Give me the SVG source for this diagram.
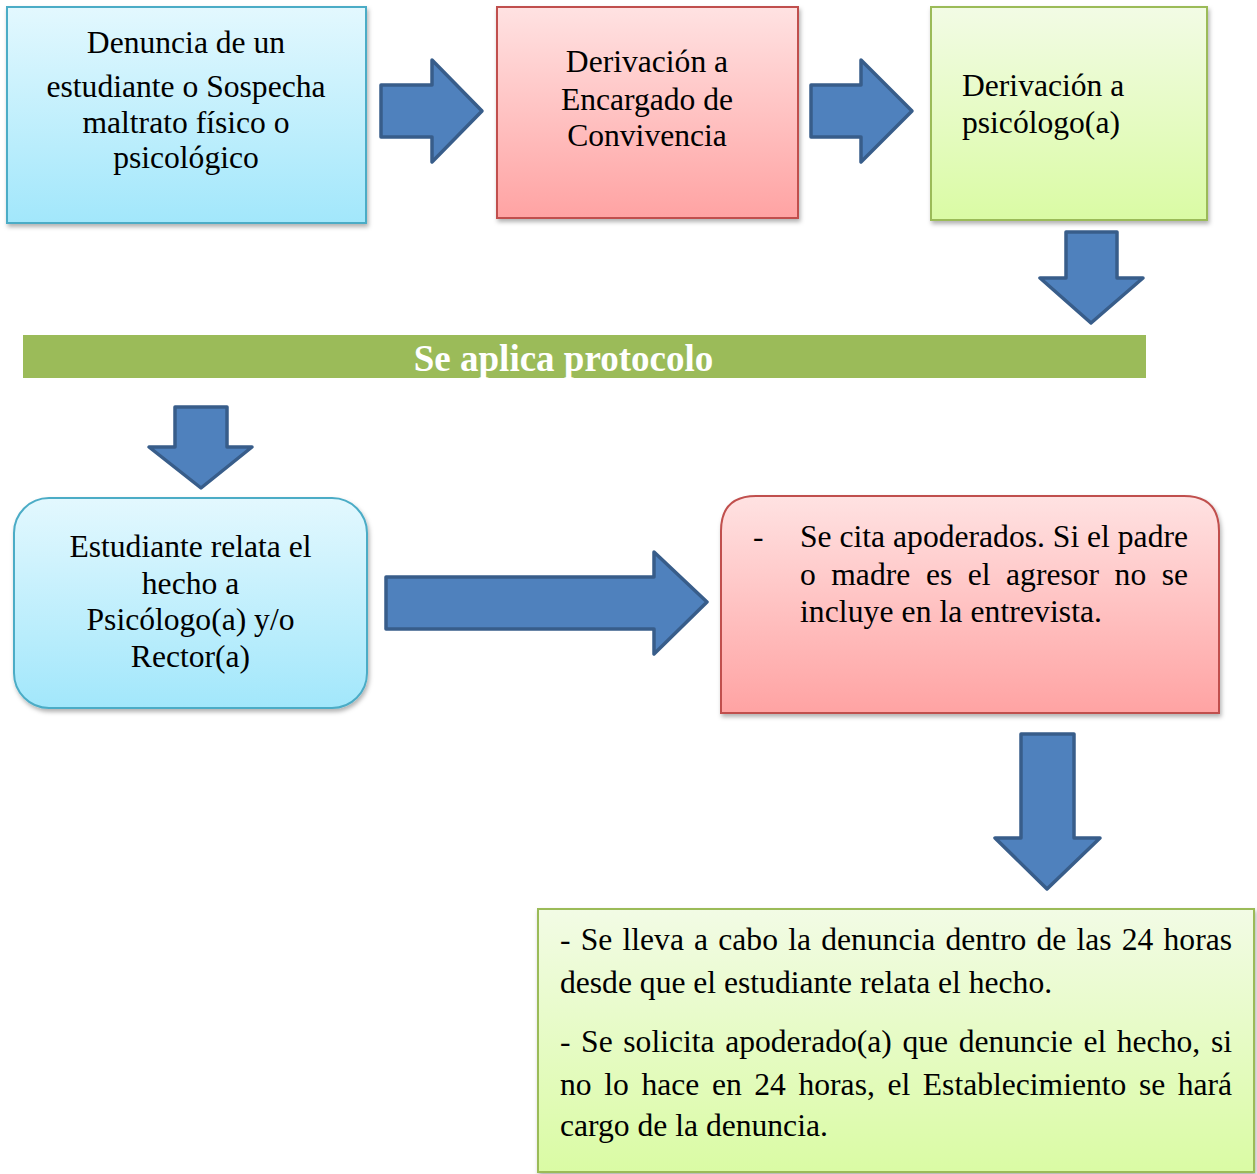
<svg xmlns="http://www.w3.org/2000/svg" width="1257" height="1174" viewBox="0 0 1257 1174">
<style>
.t{font-family:"Liberation Serif","Times New Roman",serif;font-size:31.6px;fill:#000}
.c{text-anchor:middle}
.arrow{fill:#4f81bd;stroke:#385d8a;stroke-width:3.5;stroke-linejoin:round}
.blue{fill:url(#gBlue);stroke:#4bacc6;stroke-width:2}
.red{fill:url(#gRed);stroke:#c0504d;stroke-width:2}
.green{fill:url(#gGreen);stroke:#9bbb59;stroke-width:2}
</style>
<defs>
<linearGradient id="gBlue" x1="0" y1="0" x2="0" y2="1"><stop offset="0" stop-color="#e3f8fe"/><stop offset="1" stop-color="#a2e7fb"/></linearGradient>
<linearGradient id="gRed" x1="0" y1="0" x2="0" y2="1"><stop offset="0" stop-color="#ffe2e2"/><stop offset="1" stop-color="#ffa3a3"/></linearGradient>
<linearGradient id="gGreen" x1="0" y1="0" x2="0" y2="1"><stop offset="0" stop-color="#f2fbe5"/><stop offset="1" stop-color="#dafba4"/></linearGradient>
<filter id="sh" x="-10%" y="-10%" width="120%" height="125%"><feDropShadow dx="1.5" dy="3" stdDeviation="2" flood-color="#000" flood-opacity="0.3"/></filter>
</defs>
<rect width="1257" height="1174" fill="#fff"/>

<g id="node-denuncia">
<rect class="blue" x="7" y="7" width="359" height="216" filter="url(#sh)"/>
<text class="t c" x="186" y="53">Denuncia de un</text>
<text class="t c" x="186" y="97">estudiante o Sospecha</text>
<text class="t c" x="186" y="133">maltrato físico o</text>
<text class="t c" x="186" y="168">psicológico</text>
</g>

<g id="node-encargado">
<rect class="red" x="497" y="7" width="301" height="211" filter="url(#sh)"/>
<text class="t c" x="647" y="72">Derivación a</text>
<text class="t c" x="647" y="110">Encargado de</text>
<text class="t c" x="647" y="146">Convivencia</text>
</g>

<g id="node-psicologo">
<rect class="green" x="931" y="7" width="276" height="213" filter="url(#sh)"/>
<text class="t" x="962" y="96">Derivación a</text>
<text class="t" x="962" y="133">psicólogo(a)</text>
</g>

<g id="node-protocolo">
<rect x="23" y="335" width="1123" height="43" fill="#9bbb59"/>
<text x="563.5" y="371" text-anchor="middle" font-family="Liberation Serif,Times New Roman,serif" font-size="37" font-weight="bold" fill="#fff">Se aplica protocolo</text>
</g>

<g id="node-relata">
<rect class="blue" x="14" y="498" width="353" height="210" rx="35" ry="35" filter="url(#sh)"/>
<text class="t c" x="190.5" y="557">Estudiante relata el</text>
<text class="t c" x="190.5" y="594">hecho a</text>
<text class="t c" x="190.5" y="630">Psicólogo(a) y/o</text>
<text class="t c" x="190.5" y="667">Rector(a)</text>
</g>

<g id="node-cita">
<path class="red" d="M721 713 V531 Q721 496 756 496 H1184 Q1219 496 1219 531 V713 Z" filter="url(#sh)"/>
<text class="t" x="753" y="547">-</text>
<text class="t" x="800" y="547" textLength="388" lengthAdjust="spacing">Se cita apoderados. Si el padre</text>
<text class="t" y="585"><tspan x="800">o</tspan><tspan x="831.3">madre</tspan><tspan x="925.9">es</tspan><tspan x="967.7">el</tspan><tspan x="1006.1">agresor</tspan><tspan x="1114.6">no</tspan><tspan x="1188" text-anchor="end">se</tspan></text>
<text class="t" x="800" y="622" textLength="302" lengthAdjust="spacing">incluye en la entrevista.</text>
</g>

<g id="node-denuncia-24h">
<rect class="green" x="538" y="909" width="716" height="263" filter="url(#sh)"/>
<text class="t" y="950"><tspan x="560">-</tspan><tspan x="580.7">Se</tspan><tspan x="622.5">lleva</tspan><tspan x="694.1">a</tspan><tspan x="718.3">cabo</tspan><tspan x="788.2">la</tspan><tspan x="821.2">denuncia</tspan><tspan x="945.5">dentro</tspan><tspan x="1036.4">de</tspan><tspan x="1076.4">las</tspan><tspan x="1121.7">24</tspan><tspan x="1232" text-anchor="end">horas</tspan></text>
<text class="t" x="560" y="993">desde que el estudiante relata el hecho.</text>
<text class="t" y="1052"><tspan x="560">-</tspan><tspan x="581.1">Se</tspan><tspan x="623.3">solicita</tspan><tspan x="725.2">apoderado(a)</tspan><tspan x="902.5">que</tspan><tspan x="958.7">denuncie</tspan><tspan x="1083.4">el</tspan><tspan x="1116.8">hecho,</tspan><tspan x="1232" text-anchor="end">si</tspan></text>
<text class="t" y="1095"><tspan x="560">no</tspan><tspan x="604.2">lo</tspan><tspan x="641.4">hace</tspan><tspan x="711.9">en</tspan><tspan x="754.3">24</tspan><tspan x="798.5">horas,</tspan><tspan x="887.4">el</tspan><tspan x="922.8">Establecimiento</tspan><tspan x="1139">se</tspan><tspan x="1232" text-anchor="end">hará</tspan></text>
<text class="t" x="560" y="1136">cargo de la denuncia.</text>
</g>

<g id="connectors">
<path class="arrow" d="M381 85 H432 V60 L482 111 L432 162 V137 H381 Z"/>
<path class="arrow" d="M811 85 H861 V60 L912 111 L861 162 V137 H811 Z"/>
<path class="arrow" d="M1066 232 H1117 V278 H1143 L1091 323 L1040 278 H1066 Z"/>
<path class="arrow" d="M175 407 H227 V447 H252 L201 488 L149 447 H175 Z"/>
<path class="arrow" d="M386 577 H654 V552 L707 602 L654 654 V629 H386 Z"/>
<path class="arrow" d="M1021 734 H1074 V838 H1100 L1047 889 L995 838 H1021 Z"/>
</g>
</svg>
